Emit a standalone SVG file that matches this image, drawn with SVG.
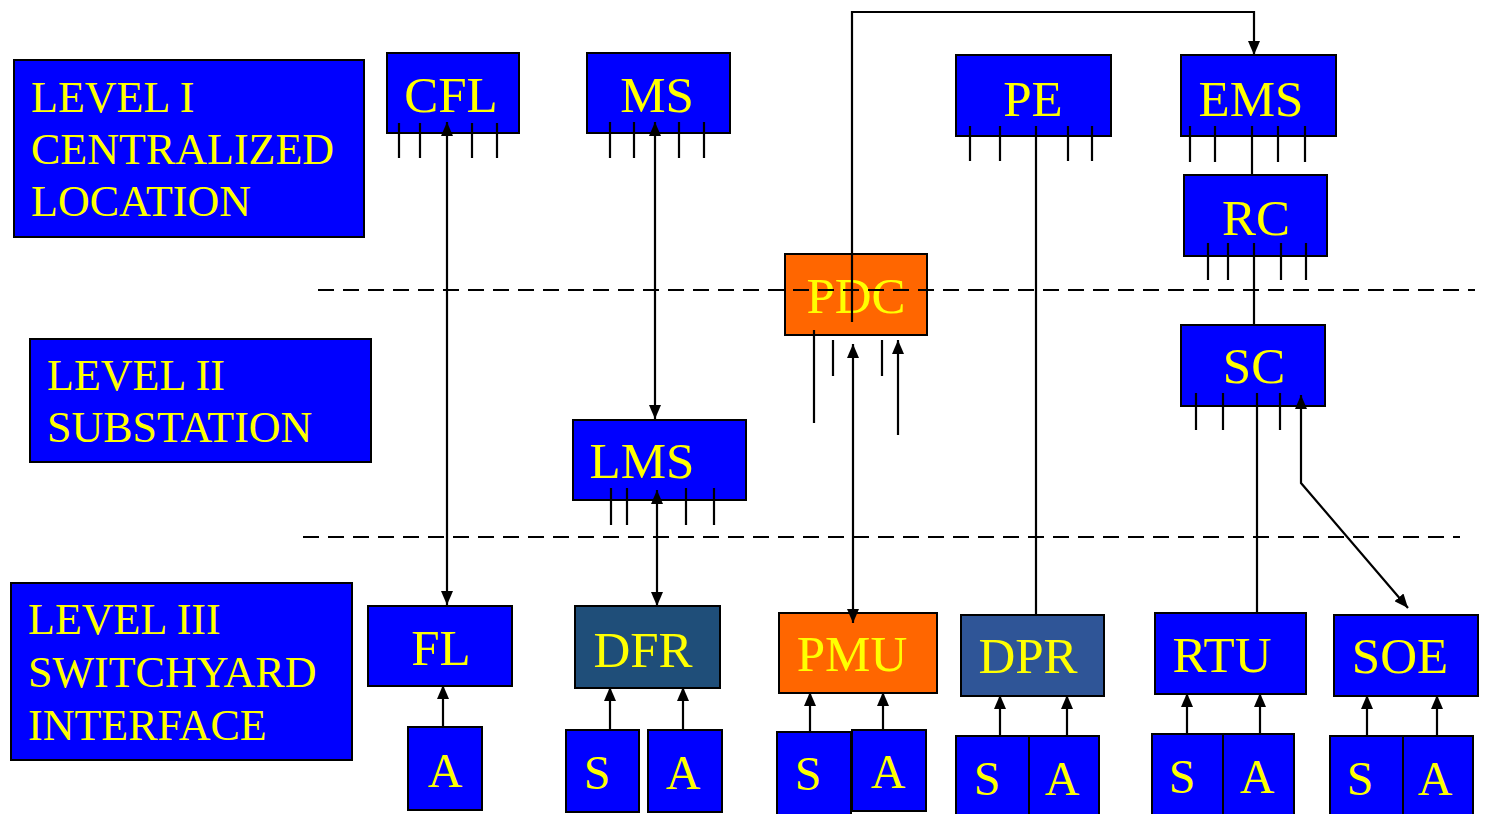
<svg xmlns="http://www.w3.org/2000/svg" width="1487" height="814" viewBox="0 0 1487 814">
<style>
.b{fill:#0000FF;stroke:#000;stroke-width:2}
.o{fill:#FF6600;stroke:#000;stroke-width:2}
.d1{fill:#1F4E79;stroke:#000;stroke-width:2}
.d2{fill:#2F5597;stroke:#000;stroke-width:2}
.t{font-family:"Liberation Serif","Times New Roman",serif;font-size:51px;fill:#FFFF00;text-anchor:middle}
.s{font-family:"Liberation Serif","Times New Roman",serif;font-size:48px;fill:#FFFF00;text-anchor:middle}
.lv{font-family:"Liberation Serif","Times New Roman",serif;font-size:44px;fill:#FFFF00}
.ln{stroke:#000;stroke-width:2.2;fill:none}
.dash{stroke:#000;stroke-width:2;stroke-dasharray:16 9;fill:none}
</style>
<defs>
<marker id="ah" viewBox="0 0 14 12" refX="14" refY="6" markerWidth="14" markerHeight="12" markerUnits="userSpaceOnUse" orient="auto-start-reverse">
<path d="M0,0 L14,6 L0,12 z" fill="#000"/>
</marker>
</defs>
<rect width="1487" height="814" fill="#fff"/>

<g id="level1"><rect class="b" x="14" y="60" width="350" height="177"/>
<text class="lv" x="31" y="112">LEVEL I</text><text class="lv" x="31" y="164">CENTRALIZED</text><text class="lv" x="31" y="216">LOCATION</text></g>
<g id="level2"><rect class="b" x="30" y="339" width="341" height="123"/>
<text class="lv" x="47" y="390">LEVEL II</text><text class="lv" x="47" y="442">SUBSTATION</text></g>
<g id="level3"><rect class="b" x="11" y="583" width="341" height="177"/>
<text class="lv" x="28" y="634">LEVEL III</text><text class="lv" x="28" y="687">SWITCHYARD</text><text class="lv" x="28" y="740">INTERFACE</text></g>

<g id="CFL"><rect class="b" x="387" y="53" width="132" height="80"/><text class="t" x="451" y="112">CFL</text></g>
<g id="MS"><rect class="b" x="587" y="53" width="143" height="80"/><text class="t" x="657" y="112">MS</text></g>
<g id="PE"><rect class="b" x="956" y="55" width="155" height="81"/><text class="t" x="1033" y="116">PE</text></g>
<g id="EMS"><rect class="b" x="1181" y="55" width="155" height="81"/><text class="t" x="1251" y="116">EMS</text></g>
<g id="RC"><rect class="b" x="1184" y="175" width="143" height="81"/><text class="t" x="1256" y="235">RC</text></g>
<g id="PDC"><rect class="o" x="785" y="254" width="142" height="81"/><text class="t" x="856" y="313">PDC</text></g>
<g id="SC"><rect class="b" x="1181" y="325" width="144" height="81"/><text class="t" x="1254" y="383">SC</text></g>
<g id="LMS"><rect class="b" x="573" y="420" width="173" height="80"/><text class="t" x="642" y="478">LMS</text></g>

<g id="FL"><rect class="b" x="368" y="606" width="144" height="80"/><text class="t" x="441" y="665">FL</text></g>
<g id="DFR"><rect class="d1" x="575" y="606" width="145" height="82"/><text class="t" x="643" y="667">DFR</text></g>
<g id="PMU"><rect class="o" x="779" y="613" width="158" height="80"/><text class="t" x="852" y="671">PMU</text></g>
<g id="DPR"><rect class="d2" x="961" y="615" width="143" height="81"/><text class="t" x="1028" y="673">DPR</text></g>
<g id="RTU"><rect class="b" x="1155" y="613" width="151" height="81"/><text class="t" x="1222" y="672">RTU</text></g>
<g id="SOE"><rect class="b" x="1334" y="615" width="144" height="81"/><text class="t" x="1400" y="673">SOE</text></g>

<g id="FL-A"><rect class="b" x="408" y="727" width="74" height="83"/><text class="s" x="445" y="787">A</text></g>
<g id="DFR-S"><rect class="b" x="566" y="730" width="73" height="82"/><text class="s" x="597" y="789">S</text></g>
<g id="DFR-A"><rect class="b" x="648" y="730" width="74" height="82"/><text class="s" x="683" y="789">A</text></g>
<g id="PMU-S"><rect class="b" x="777" y="732" width="74" height="84"/><text class="s" x="808" y="790">S</text></g>
<g id="PMU-A"><rect class="b" x="852" y="730" width="74" height="81"/><text class="s" x="888" y="788">A</text></g>
<g id="DPR-S"><rect class="b" x="956" y="736" width="73" height="82"/><text class="s" x="987" y="795">S</text></g>
<g id="DPR-A"><rect class="b" x="1029" y="736" width="70" height="82"/><text class="s" x="1062" y="795">A</text></g>
<g id="RTU-S"><rect class="b" x="1152" y="734" width="71" height="84"/><text class="s" x="1182" y="793">S</text></g>
<g id="RTU-A"><rect class="b" x="1223" y="734" width="71" height="84"/><text class="s" x="1257" y="793">A</text></g>
<g id="SOE-S"><rect class="b" x="1330" y="736" width="73" height="82"/><text class="s" x="1360" y="795">S</text></g>
<g id="SOE-A"><rect class="b" x="1403" y="736" width="70" height="82"/><text class="s" x="1435" y="795">A</text></g>

<g id="dividers">
<line class="dash" x1="318" y1="290" x2="1475" y2="290"/>
<line class="dash" x1="303" y1="537" x2="1460" y2="537"/>
</g>

<g id="connectors">
<path class="ln" d="M399,123V158M420,123V158M472,123V158M497,123V158"/>
<path class="ln" d="M610,122V158M634,122V158M679,122V158M704,122V158"/>
<path class="ln" d="M970,126V161M1000,126V161M1068,126V161M1092,126V161"/>
<path class="ln" d="M1190,126V162M1215,126V162M1278,126V162M1305,126V162"/>
<path class="ln" d="M1208,243V280M1228,243V280M1281,243V280M1306,243V280"/>
<path class="ln" d="M1196,393V430M1223,393V430M1280,393V430"/>
<path class="ln" d="M611,488V525M627,488V525M686,488V525M714,488V525"/>
<path class="ln" d="M814,330V423M833,340V376M882,340V376"/>
<line class="ln" x1="447" y1="122" x2="447" y2="605" marker-start="url(#ah)" marker-end="url(#ah)"/>
<line class="ln" x1="655" y1="122" x2="655" y2="419" marker-start="url(#ah)" marker-end="url(#ah)"/>
<line class="ln" x1="657" y1="490" x2="657" y2="606" marker-start="url(#ah)" marker-end="url(#ah)"/>
<polyline class="ln" points="852,322 852,12 1254,12 1254,55" marker-end="url(#ah)"/>
<line class="ln" x1="853" y1="344" x2="853" y2="623" marker-start="url(#ah)" marker-end="url(#ah)"/>
<line class="ln" x1="898" y1="435" x2="898" y2="340" marker-end="url(#ah)"/>
<line class="ln" x1="1036" y1="126" x2="1036" y2="615"/>
<line class="ln" x1="1252" y1="126" x2="1252" y2="175"/>
<line class="ln" x1="1254" y1="243" x2="1254" y2="325"/>
<line class="ln" x1="1257" y1="393" x2="1257" y2="613"/>
<polyline class="ln" points="1301,395 1301,483 1408,608" marker-start="url(#ah)" marker-end="url(#ah)"/>
<line class="ln" x1="443" y1="727" x2="443" y2="685" marker-end="url(#ah)"/>
<line class="ln" x1="610" y1="730" x2="610" y2="687" marker-end="url(#ah)"/>
<line class="ln" x1="683" y1="730" x2="683" y2="687" marker-end="url(#ah)"/>
<line class="ln" x1="810" y1="732" x2="810" y2="692" marker-end="url(#ah)"/>
<line class="ln" x1="883" y1="730" x2="883" y2="692" marker-end="url(#ah)"/>
<line class="ln" x1="1000" y1="736" x2="1000" y2="695" marker-end="url(#ah)"/>
<line class="ln" x1="1067" y1="736" x2="1067" y2="695" marker-end="url(#ah)"/>
<line class="ln" x1="1187" y1="734" x2="1187" y2="693" marker-end="url(#ah)"/>
<line class="ln" x1="1260" y1="734" x2="1260" y2="693" marker-end="url(#ah)"/>
<line class="ln" x1="1367" y1="736" x2="1367" y2="695" marker-end="url(#ah)"/>
<line class="ln" x1="1437" y1="736" x2="1437" y2="695" marker-end="url(#ah)"/>
</g>
</svg>
